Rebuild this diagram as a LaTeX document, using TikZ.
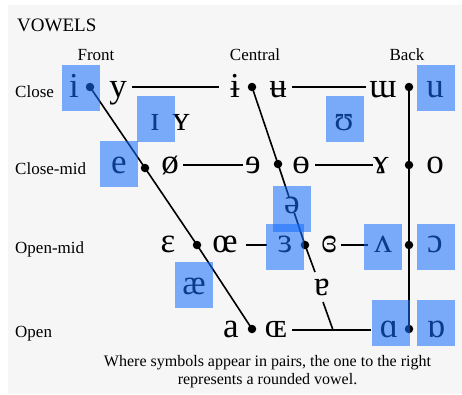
\documentclass[tikz,border=0pt]{standalone}
\usepackage{fontspec}
\setmainfont{Liberation Serif}
\definecolor{bggray}{RGB}{246,246,246}
\definecolor{hlblue}{RGB}{20,108,255}
\begin{document}
\begin{tikzpicture}[x=1pt,y=-1pt,
  vw/.style={font=\fontsize{35}{35}\selectfont, inner sep=0pt, anchor=base},
  rowlab/.style={font=\fontsize{17}{17}\selectfont, inner sep=0pt, anchor=base west},
  collab/.style={font=\fontsize{17}{17}\selectfont, inner sep=0pt, anchor=base},
  note/.style={font=\fontsize{16}{16}\selectfont, inner sep=0pt, anchor=base},
  vdot/.style={circle, fill=black, inner sep=0pt, minimum size=8.5pt},
  mainline/.style={line width=1.6pt},
  rowline/.style={line width=1.1pt},
  hlbox/.style={fill=hlblue, fill opacity=0.55, draw=none, inner sep=0pt, minimum width=38pt, minimum height=46pt},
]
\useasboundingbox (0,0) rectangle (462,394);
\fill[white] (0,0) rectangle (462,394);
\fill[bggray] (8,5) rectangle (462,394);

% titles and labels
\node[font=\fontsize{19}{19}\selectfont, inner sep=0pt, anchor=base west] (title) at (17,31) {VOWELS};
\node[collab] (front) at (96,60) {Front};
\node[collab] (central) at (255,60) {Central};
\node[collab] (back) at (407,60) {Back};
\node[rowlab] (close) at (15,97) {Close};
\node[rowlab] (closemid) at (15,174) {Close-mid};
\node[rowlab] (openmid) at (15,253) {Open-mid};
\node[rowlab] (open) at (15,337) {Open};

% dots
\node[vdot] (dCF) at (90,87) {};
\node[vdot] (dCC) at (252,87) {};
\node[vdot] (dCB) at (409,87) {};
\node[vdot] (dMF) at (145,168) {};
\node[vdot] (dMC) at (278,164) {};
\node[vdot] (dMB) at (409,165) {};
\node[vdot] (dOF) at (197,245) {};
\node[vdot] (dOC) at (305,245) {};
\node[vdot] (dOB) at (409,245) {};
\node[vdot] (dAF) at (252,329) {};
\node[vdot] (dAB) at (409,329) {};
\coordinate (cA) at (315,272);
\coordinate (cB) at (323,302);
\coordinate (cC) at (333,330);

% vowel symbols
\node[vw] (vi) at (74,97) {i};
\node[vw] (vy) at (118,97) {y};
\node[vw] (vib) at (235,97) {ɨ};
\node[vw] (vub) at (278,97) {ʉ};
\node[vw] (vmw) at (383,97) {ɯ};
\node[vw] (vu) at (435,97) {u};
\node[vw] (vI) at (155,130) {ɪ};
\node[vw] (vY) at (181,130) {ʏ};
\node[vw] (vU) at (344,130) {ʊ};
\node[vw] (ve) at (119,173) {e};
\node[vw] (vo2) at (170,173) {ø};
\node[vw] (vre) at (253,173) {ɘ};
\node[vw] (vob) at (301,173) {ɵ};
\node[vw] (vgm) at (381,173) {ɤ};
\node[vw] (vo) at (435,173) {o};
\node[vw] (veps) at (168,252) {ɛ};
\node[vw] (voe) at (225,252) {œ};
\node[vw] (vrep) at (285,252) {ɜ};
\node[vw] (vcrep) at (329,252) {ɞ};
\node[vw] (vwedge) at (383,252) {ʌ};
\node[vw] (vopeno) at (435,252) {ɔ};
\node[vw] (vae) at (194,294) {æ};
\node[vw] (vturna) at (322,295) {ɐ};
\node[vw] (va) at (231,337) {a};
\node[vw] (vOE) at (276,337) {ɶ};
\node[vw] (valpha) at (389,337) {ɑ};
\node[vw] (vturnalpha) at (436,337) {ɒ};

% main lines
\draw[mainline] (dCF.center) -- (dMF.center) -- (dOF.center) -- (dAF.center);
\draw[mainline] (dCC.center) -- (dMC.center) -- (dOC.center) -- (cA);
\draw[mainline] (cB) -- (cC);
\draw[mainline] (dCB.center) -- (dMB.center) -- (dOB.center) -- (dAB.center);

% row lines
\draw[rowline, shorten <=5.5pt, shorten >=11pt] (vy.east |- dCF) -- (vib.west |- dCF);
\draw[rowline, shorten <=5.5pt, shorten >=3pt] (vub.east |- dCF) -- (vmw.west |- dCF);
\draw[rowline, shorten <=4.5pt, shorten >=2.5pt] (vo2.east |- dMB) -- (vre.west |- dMB);
\draw[rowline, shorten <=5.5pt, shorten >=0pt] (vob.east |- dMB) -- (vgm.west |- dMB);
\draw[rowline, shorten <=8pt, shorten >=10pt] (voe.east |- dOF) -- (vrep.west |- dOF);
\draw[rowline, shorten <=4.5pt, shorten >=6.5pt] (vcrep.east |- dOF) -- (vwedge.west |- dOF);
\draw[rowline, shorten <=5pt, shorten >=8.5pt] (vOE.east |- cC) -- (valpha.west |- cC);

% schwa interrupting the central line
\node[vw, fill=bggray] (vschwa) at (292,213) {ə};

% note
\node[note] (note1) at (267.5,366) {Where symbols appear in pairs, the one to the right};
\node[note] (note2) at (267.5,384) {represents a rounded vowel.};

% highlight boxes
\node[hlbox] (hi) at (81,88) {};
\node[hlbox] (hI) at (156,119) {};
\node[hlbox] (he) at (119,164) {};
\node[hlbox] (hU) at (345,119) {};
\node[hlbox] (hu) at (436,88) {};
\node[hlbox] (hschwa) at (292,209) {};
\node[hlbox] (hrep) at (285,247) {};
\node[hlbox] (hwedge) at (383,247) {};
\node[hlbox] (hopeno) at (436,247) {};
\node[hlbox] (hae) at (194,285) {};
\node[hlbox] (halpha) at (391,323) {};
\node[hlbox] (hturnalpha) at (436,323) {};
\end{tikzpicture}
\end{document}
